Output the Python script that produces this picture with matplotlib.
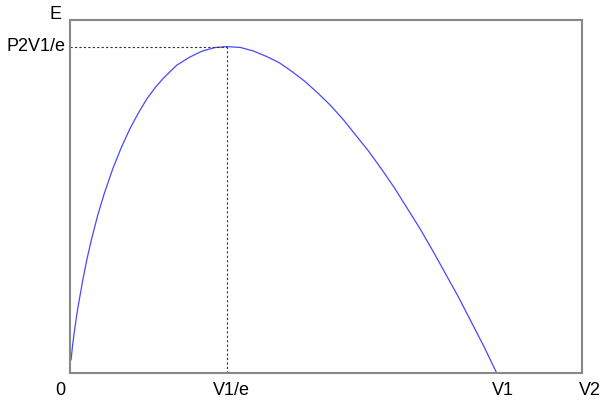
import matplotlib
matplotlib.use("Agg")
import matplotlib.pyplot as plt

# curve: V2 as a fraction of V1, E as a fraction of P2*V1
v2 = [0.0025, 0.006, 0.01, 0.015, 0.02, 0.03, 0.04, 0.05, 0.065, 0.08, 0.1,
      0.12, 0.14, 0.16, 0.18, 0.2, 0.22, 0.25, 0.28, 0.31, 0.34, 0.368, 0.40,
      0.43, 0.46, 0.49, 0.52, 0.55, 0.58, 0.61, 0.64, 0.67, 0.70, 0.73, 0.76,
      0.79, 0.82, 0.85, 0.88, 0.91, 0.94, 0.97, 1.0]
energy = [0.015, 0.031, 0.046, 0.063, 0.078, 0.105, 0.129, 0.150, 0.178, 0.202,
          0.230, 0.254, 0.275, 0.293, 0.309, 0.322, 0.333, 0.347, 0.356, 0.363,
          0.367, 0.368, 0.367, 0.363, 0.357, 0.350, 0.340, 0.329, 0.316, 0.302,
          0.286, 0.268, 0.250, 0.230, 0.209, 0.186, 0.163, 0.138, 0.112, 0.086,
          0.058, 0.030, 0.0]

peak_x = 0.368
peak_y = 0.368

x_labels = ["0", "V1/e", "V1", "V2"]
y_labels = ["E", "P2V1/e"]

plt.rcParams['font.family'] = ['Liberation Sans', 'DejaVu Sans']

fig = plt.figure(figsize=(6.02, 4.05), dpi=100)
ax = fig.add_axes([0.1163, 0.079, 0.8505, 0.8716])

ax.plot(v2, energy, color='#4848ff', linewidth=0.9)
ax.plot([0, peak_x], [peak_y, peak_y], color='#333333', linewidth=0.8,
        linestyle=(0, (2, 2)))
ax.plot([peak_x, peak_x], [0, peak_y], color='#333333', linewidth=0.8,
        linestyle=(0, (2, 2)))

ax.set_xlim(0, 1.2)
ax.set_ylim(0, 0.398)
ax.set_xticks([])
ax.set_yticks([])
for s in ax.spines.values():
    s.set_color('#888888')
    s.set_linewidth(1.5)

fs = 13
fig.text(0.0997, 0.037, x_labels[0], ha='center', va='center', fontsize=fs)
fig.text(0.3837, 0.037, x_labels[1], ha='center', va='center', fontsize=fs)
fig.text(0.8355, 0.037, x_labels[2], ha='center', va='center', fontsize=fs)
fig.text(0.980, 0.037, x_labels[3], ha='center', va='center', fontsize=fs)
fig.text(0.093, 0.965, y_labels[0], ha='center', va='center', fontsize=fs)
fig.text(0.1096, 0.884, y_labels[1], ha='right', va='center', fontsize=fs)

fig.savefig("out.png", dpi=100)
